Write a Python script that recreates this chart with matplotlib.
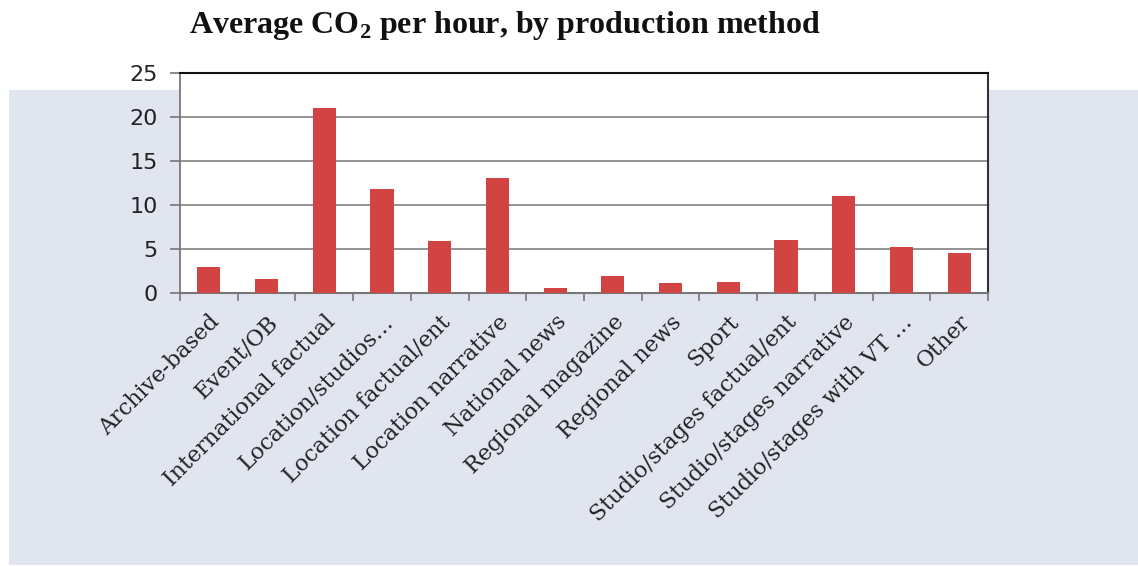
import matplotlib
matplotlib.use("Agg")
import matplotlib.pyplot as plt
from matplotlib.patches import Rectangle
import numpy as np

plt.rcParams["mathtext.fontset"] = "custom"
plt.rcParams["mathtext.rm"] = "Liberation Serif"
plt.rcParams["mathtext.bf"] = "Liberation Serif:bold"

categories = [
    "Archive-based", "Event/OB", "International factual", "Location/studios\u2026",
    "Location factual/ent", "Location narrative", "National news",
    "Regional magazine", "Regional news", "Sport", "Studio/stages factual/ent",
    "Studio/stages narrative", "Studio/stages with VT \u2026", "Other",
]
co2_per_hour = [2.9, 1.6, 21.0, 11.8, 5.85, 13.0, 0.6, 1.95, 1.1, 1.25, 6.0, 11.0, 5.25, 4.5]
y_ticks = [0, 5, 10, 15, 20, 25]

fig = plt.figure(figsize=(11.38, 5.66), dpi=100)
fig.patch.set_facecolor("white")

# pale slide panel behind the chart
panel = Rectangle((9 / 1138, 1 / 566), 1.0, (565 - 90) / 566,
                  transform=fig.transFigure, facecolor="#e0e5f0",
                  edgecolor="none", zorder=-10)
fig.patches.append(panel)

ax = fig.add_axes([180 / 1138, 1 - 293 / 566, (988 - 180) / 1138, (293 - 72.7) / 566])
ax.set_zorder(1)
ax.set_facecolor("white")

x = np.arange(len(categories))
ax.bar(x, co2_per_hour, width=0.4, color="#d24343", zorder=3)

ax.set_xlim(-0.5, len(categories) - 0.5)
ax.set_ylim(0, 25)
ax.set_yticks(y_ticks)
ax.yaxis.grid(True, color="#8a8a8a", linewidth=1.3, zorder=1)
ax.set_axisbelow(True)

# category boundaries carry the tick marks, centres carry the labels
ax.set_xticks(np.arange(len(categories) + 1) - 0.5)
ax.set_xticklabels([])
ax.set_xticks(x, minor=True)
ax.set_xticklabels(categories, minor=True, rotation=45, ha="right",
                   rotation_mode="anchor", fontsize=16, family="DejaVu Serif",
                   color="#222222")
ax.tick_params(axis="x", which="major", length=6, width=1.2, color="#777777", direction="out")
ax.tick_params(axis="x", which="minor", length=0, pad=13)
ax.tick_params(axis="y", length=7, width=1.2, color="#777777", pad=9,
               labelsize=16, labelcolor="#222222")
for lbl in ax.get_yticklabels():
    lbl.set_family("DejaVu Sans")

ax.spines["top"].set_color("#111111")
ax.spines["top"].set_linewidth(1.5)
ax.spines["right"].set_color("#333333")
ax.spines["right"].set_linewidth(1.5)
ax.spines["left"].set_color("#777777")
ax.spines["left"].set_linewidth(1.3)
ax.spines["bottom"].set_color("#777777")
ax.spines["bottom"].set_linewidth(1.5)

fig.text(505 / 1138, 1 - 26 / 566, r"Average CO$_\mathbf{2}$ per hour, by production method",
         ha="center", va="center", fontsize=23, fontweight="bold",
         family="Liberation Serif", color="#111111")

fig.savefig("out.png", dpi=100)
